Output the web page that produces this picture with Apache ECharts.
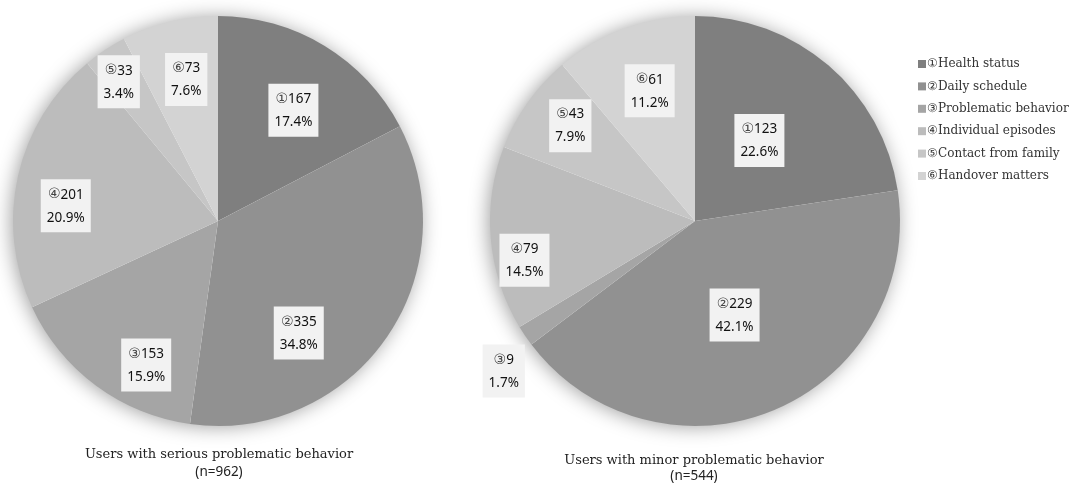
<!DOCTYPE html>
<html>
<head>
<meta charset="utf-8">
<script src="https://cdn.jsdelivr.net/npm/echarts@6/dist/echarts.min.js"></script>
<style>
  html, body { margin: 0; padding: 0; background: #fff; }
  #chart1 { width: 1078px; height: 484px; }
</style>
</head>
<body>
<div id="chart1"></div>
<script>
// categories (legend order)
var marks = ['①', '②', '③', '④', '⑤', '⑥'];
var categories = ['Health status', 'Daily schedule', 'Problematic behavior', 'Individual episodes', 'Contact from family', 'Handover matters'];

// counts per group
var seriousValues = [167, 335, 153, 201, 33, 73];
var minorValues = [123, 229, 9, 79, 43, 61];

var groupTitles = ['Users with serious problematic behavior', 'Users with minor problematic behavior'];
var groupN = ['(n=962)', '(n=544)'];

var colors = ['#7f7f7f', '#919191', '#a5a5a5', '#bcbcbc', '#c6c6c6', '#d3d3d3'];

// label placement: distance from pie centre (px) and turn away from the slice middle (deg)
var labelDist = [
  [134, 138, 161, 153, 171, 145],
  [103, 102, 243, 175, 157, 138]
];
var labelTurn = [
  [3, 19, -10, -7, -2, 1],
  [-2, 0, -4, -8, 2, 1]
];

var R = 205;
var centers = [[218, 221], [695, 221]];

document.addEventListener('DOMContentLoaded', function () {
  var myChart = echarts.init(document.getElementById('chart1'));

  var names = categories.map(function (c, i) { return marks[i] + c; });

  function sum(arr) {
    return arr.reduce(function (a, b) { return a + b; }, 0);
  }

  function makePie(values, idx) {
    var total = sum(values);
    return {
      name: groupTitles[idx],
      type: 'pie',
      radius: [0, R],
      center: centers[idx],
      startAngle: 90,
      clockwise: true,
      z: 3,
      avoidLabelOverlap: false,
      emphasis: { disabled: true },
      itemStyle: { borderWidth: 0 },
      label: {
        show: true,
        position: 'inside',
        formatter: function (p) {
          var pct = (p.value / total * 100).toFixed(1);
          return '{m|' + marks[p.dataIndex] + '}{v|' + p.value + '}\n{v|' + pct + '%}';
        },
        backgroundColor: '#f2f2f2',
        padding: [4, 6, 3, 6],
        rich: {
          m: { fontFamily: 'DejaVu Sans', fontSize: 14, color: '#444', lineHeight: 23 },
          v: { fontFamily: 'Noto Sans', fontSize: 13.5, color: '#111', lineHeight: 23 }
        }
      },
      labelLine: { show: false },
      labelLayout: function (params) {
        var c = centers[idx];
        var r = params.labelRect;
        var lx = r.x + r.width / 2 - c[0];
        var ly = r.y + r.height / 2 - c[1];
        // angle clockwise from 12 o'clock of the default inside position
        var a = Math.atan2(lx, -ly) + labelTurn[idx][params.dataIndex] * Math.PI / 180;
        var d = labelDist[idx][params.dataIndex];
        return {
          x: c[0] + d * Math.sin(a),
          y: c[1] - d * Math.cos(a),
          hideOverlap: false
        };
      },
      data: values.map(function (v, i) {
        return { value: v, name: names[i], itemStyle: { color: colors[i] } };
      })
    };
  }

  // soft shadow behind each pie
  function makeShadow(values, idx) {
    return {
      type: 'pie',
      radius: [0, R - 1],
      center: centers[idx],
      silent: true,
      z: 1,
      label: { show: false },
      labelLine: { show: false },
      itemStyle: {
        color: '#ffffff',
        shadowBlur: 20,
        shadowColor: 'rgba(0,0,0,0.4)',
        shadowOffsetX: -2,
        shadowOffsetY: 1
      },
      data: [{ value: sum(values), name: '' }]
    };
  }

  var option = {
    backgroundColor: '#ffffff',
    animation: false,
    title: [0, 1].map(function (i) {
      return {
        text: groupTitles[i],
        subtext: groupN[i],
        left: i === 0 ? 214 : 689,
        textAlign: 'center',
        top: i === 0 ? 443 : 449,
        itemGap: i === 0 ? 4 : 2,
        textStyle: { fontFamily: 'DejaVu Serif', fontSize: 13, fontWeight: 'normal', color: '#222' },
        subtextStyle: { fontFamily: 'Noto Sans', fontSize: 13.5, color: '#222' }
      };
    }),
    legend: {
      orient: 'vertical',
      left: 913,
      top: 53,
      itemWidth: 8,
      itemHeight: 8,
      itemGap: 10.4,
      icon: 'rect',
      selectedMode: false,
      data: names,
      textStyle: { fontFamily: 'DejaVu Serif', fontSize: 12, color: '#333', padding: [0, 0, 0, -4] }
    },
    series: [
      makeShadow(seriousValues, 0),
      makeShadow(minorValues, 1),
      makePie(seriousValues, 0),
      makePie(minorValues, 1)
    ]
  };

  myChart.setOption(option);
});
</script>
</body>
</html>
